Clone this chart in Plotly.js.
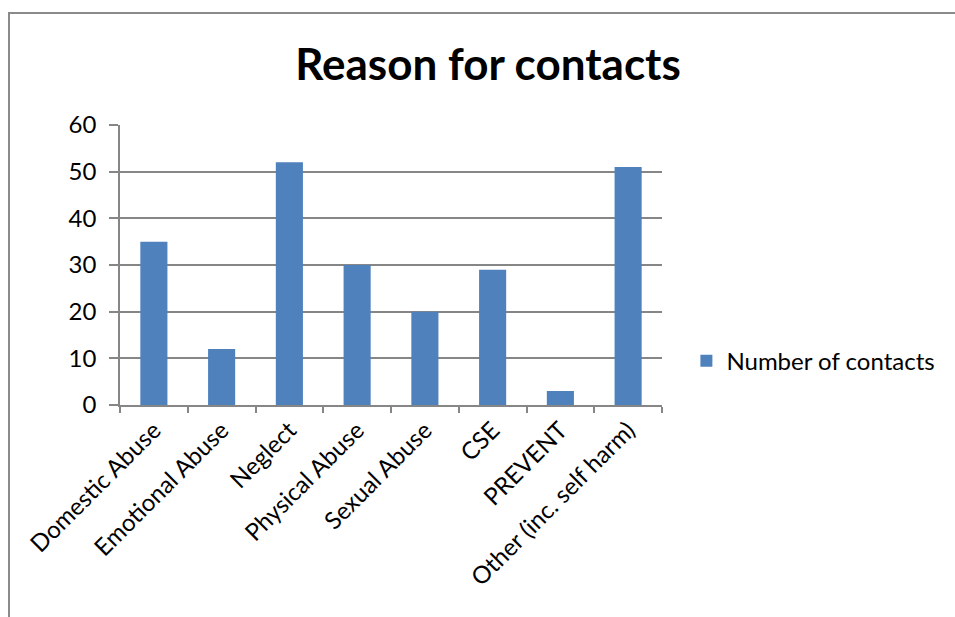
<!DOCTYPE html>
<html>
<head>
<meta charset="utf-8">
<script src="https://cdn.plot.ly/plotly-3.0.1.min.js"></script>
<style>
html,body{margin:0;padding:0;background:#fff;}
#wrap{position:relative;width:955px;height:617px;overflow:hidden;}
#chart{width:955px;height:617px;}
#frame{position:absolute;left:8px;top:12px;width:960px;height:620px;border-left:2px solid #8a8a8a;border-top:2px solid #8a8a8a;pointer-events:none;}
</style>
</head>
<body>
<div id="wrap"><div id="chart"></div><div id="frame"></div></div>
<script>
const categories = ["Domestic Abuse","Emotional Abuse","Neglect","Physical Abuse","Sexual Abuse","CSE","PREVENT","Other (inc. self harm)"];
const contacts = [35, 12, 52, 30, 20, 29, 3, 51];
const seriesName = "Number of contacts";
const yTicks = [0,10,20,30,40,50,60];

const font = "Lato, Carlito, Calibri, 'Open Sans', sans-serif";
const data = [{
  type: "bar",
  x: categories,
  y: contacts,
  name: seriesName,
  marker: {color: "#4F81BD"},
  hoverinfo: "x+y"
}];
const layout = {
  width: 955, height: 617,
  margin: {l: 120, r: 293, t: 125, b: 212},
  paper_bgcolor: "#fff", plot_bgcolor: "#fff",
  font: {family: font, size: 24, color: "#000"},
  title: {text: "<b>Reason for contacts</b>", font: {family: font, size: 44, color: "#000"},
          xref: "container", x: 0.511, xanchor: "center", yref: "container", y: 1 - 65/617, yanchor: "middle"},
  bargap: 0.6,
  showlegend: true,
  legend: {x: 1.045, xanchor: "left", y: 0.157, yanchor: "middle", font: {size: 24, family: font}, bgcolor: "rgba(0,0,0,0)"},
  xaxis: {
    type: "category", tickangle: -45, tickson: "boundaries",
    ticks: "outside", ticklen: 6, tickcolor: "#868686", tickwidth: 1.5,
    showline: true, linecolor: "#868686", linewidth: 1.5,
    showgrid: false, tickfont: {size: 24, family: font}
  },
  yaxis: {
    range: [0, 60], tickvals: yTicks, ticktext: yTicks.map(String),
    ticks: "outside", ticklen: 9, tickcolor: "#868686", tickwidth: 1.5,
    showline: true, linecolor: "#868686", linewidth: 1.5,
    showgrid: true, gridcolor: "#868686", gridwidth: 1.5, zeroline: false,
    tickfont: {size: 24, family: font}, ticklabelstandoff: 8
  }
};
Plotly.newPlot("chart", data, layout, {displayModeBar: false, responsive: false});
</script>
</body>
</html>
